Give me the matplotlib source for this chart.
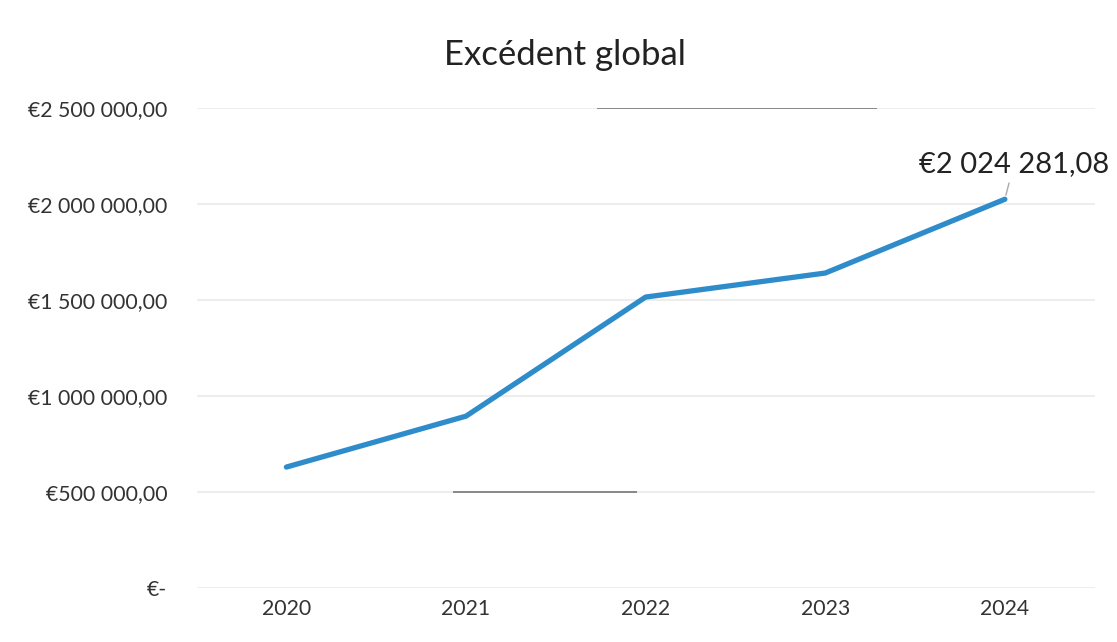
import matplotlib.pyplot as plt
from matplotlib.ticker import FuncFormatter

plt.rcParams['font.family'] = ['Lato', 'DejaVu Sans']

# === Data ===
years = ['2020', '2021', '2022', '2023', '2024']
surplus = [630000, 895000, 1515000, 1640000, 2024281.08]
y_ticks = [0, 500000, 1000000, 1500000, 2000000, 2500000]


def euro_fmt(v, pos):
    if v == 0:
        return '€-'
    s = f"{v:,.2f}".replace(',', ' ').replace('.', ',')
    return '€' + s


fig = plt.figure(figsize=(11.17, 6.42), dpi=100)
ax = fig.add_axes([0.176, 0.084, 0.804, 0.748])

x = list(range(len(years)))
ax.plot(x, surplus, color='#2F8CCB', linewidth=3.8, solid_capstyle='round', zorder=3)

ax.set_xlim(-0.5, len(years) - 0.5)
ax.set_ylim(0, 2500000)
ax.set_xticks(x)
ax.set_xticklabels(years)
ax.set_yticks(y_ticks)
ax.yaxis.set_major_formatter(FuncFormatter(euro_fmt))
ax.tick_params(axis='both', length=0, labelsize=15.3, colors='#333333')
ax.tick_params(axis='y', pad=21)
ax.tick_params(axis='x', pad=8)

ax.grid(axis='y', color='#EAEAEA', linewidth=1.2)
ax.set_axisbelow(True)
for sp in ax.spines.values():
    sp.set_visible(False)

# scan artefacts: darker strokes on two gridlines
ax.hlines(2500000, 1.73, 3.29, color='#777777', linewidth=1.2, zorder=2)
ax.hlines(500000, 0.93, 1.95, color='#777777', linewidth=1.2, zorder=2)

# last value label with leader line
ax.annotate('€2 024 281,08', xy=(x[-1], surplus[-1]), xytext=(4.05, 2205000),
            fontsize=21, color='#222222', ha='center', va='center',
            arrowprops=dict(arrowstyle='-', color='#AAAAAA', lw=1,
                            shrinkA=2, shrinkB=3))

fig.text(0.506, 0.914, 'Excédent global', ha='center', va='center',
         fontsize=25, color='#222222')

plt.savefig('out.png', dpi=100)
plt.close()
